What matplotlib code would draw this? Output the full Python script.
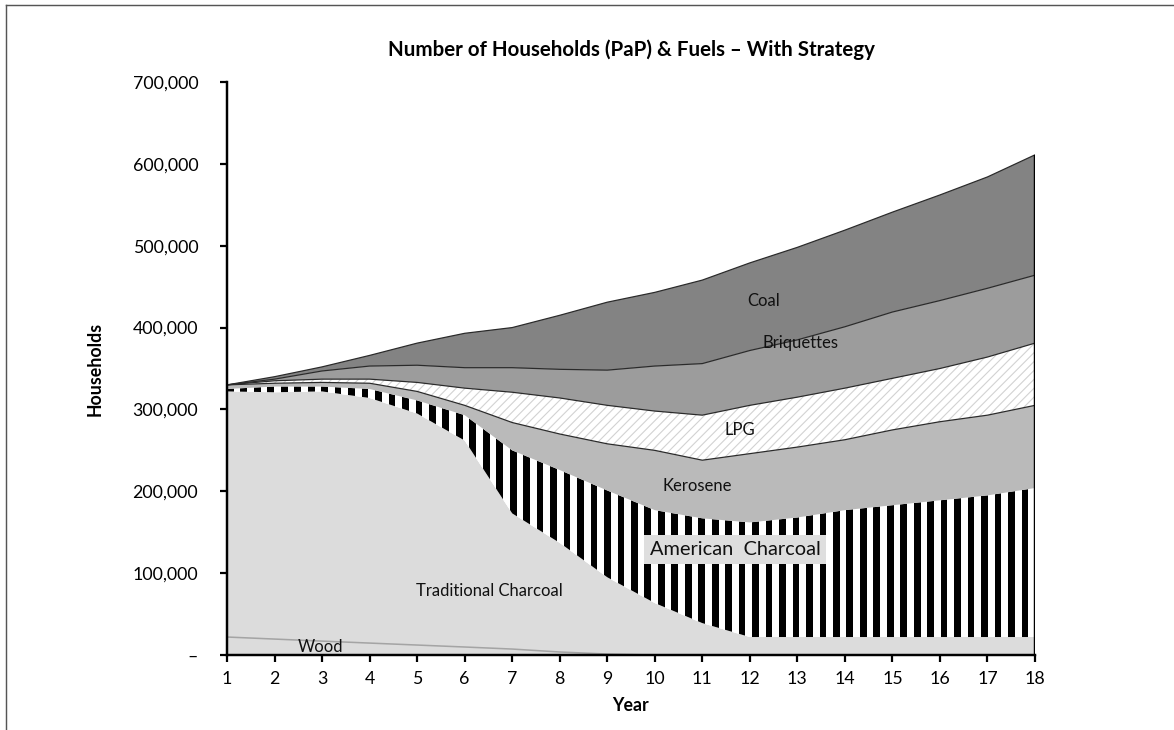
import numpy as np
import matplotlib
matplotlib.use('Agg')
import matplotlib.pyplot as plt
from matplotlib.lines import Line2D

# household counts per fuel (stack order bottom -> top)
years = list(range(1, 19))
wood = [22000, 19500, 17000, 14600, 12200, 9800, 7300, 3700, 1200,
        0, 0, 0, 0, 0, 0, 0, 0, 0]
trad_charcoal = [300000, 301500, 305000, 299400, 282800, 252200, 165700, 133300, 93800,
                 63500, 39000, 22000, 22000, 22000, 22000, 22000, 22000, 22000]
american_charcoal = [3000, 7000, 6000, 11000, 16000, 31000, 77000, 89000, 106000,
                     113500, 128000, 140000, 146000, 155000, 161000, 167000, 173000, 182000]
kerosene = [5000, 4000, 5000, 7000, 11000, 12000, 34000, 44000, 57000,
            73000, 71000, 84000, 86000, 86000, 92000, 96000, 98000, 101000]
lpg = [0, 3000, 4000, 5000, 11000, 21000, 37000, 44000, 47000,
       48000, 55000, 59000, 61000, 63000, 63000, 65000, 71000, 76000]
briquettes = [0, 2000, 10000, 16000, 21000, 25000, 30000, 35000, 43000,
              55000, 63000, 67000, 70000, 75000, 81000, 83000, 84000, 83000]
coal = [0, 3000, 5000, 13000, 27000, 42000, 49000, 66000, 83000,
        90000, 102000, 107000, 113000, 118000, 122000, 129000, 136000, 147000]

yticks = [0, 100000, 200000, 300000, 400000, 500000, 600000, 700000]

plt.rcParams['font.family'] = ['Lato', 'DejaVu Sans']
plt.rcParams['hatch.linewidth'] = 1.0

fig = plt.figure(figsize=(1174 / 80, 730 / 80), dpi=80)
ax = fig.add_axes([0.1934, 0.1027, 0.6882, 0.785])

x = np.array(years)
layers = [wood, trad_charcoal, american_charcoal, kerosene, lpg, briquettes, coal]
cum = np.cumsum(np.array(layers, dtype=float), axis=0)
zero = np.zeros(len(years))

# wood + traditional charcoal share the same light grey
ax.fill_between(x, zero, cum[0], facecolor='#dcdcdc', linewidth=0)
ax.fill_between(x, cum[0], cum[1], facecolor='#dcdcdc', linewidth=0)
ax.plot(x, cum[0], color='#a4a4a4', lw=1.4)

# american charcoal: black / white vertical stripes
am = ax.fill_between(x, cum[1], cum[2], facecolor='white', linewidth=0)
stripes = np.tile([0, 1], 60).reshape(1, -1)
im = ax.imshow(stripes, cmap='gray', aspect='auto', interpolation='nearest',
               extent=(1, 18, 0, 700000), zorder=1.5)
im.set_clip_path(am.get_paths()[0], transform=ax.transData)

ax.fill_between(x, cum[2], cum[3], facecolor='#bababa', linewidth=0, zorder=2)
ax.fill_between(x, cum[3], cum[4], facecolor='white', edgecolor='#d2d2d2',
                hatch='///', linewidth=0, zorder=2)
ax.fill_between(x, cum[4], cum[5], facecolor='#9c9c9c', linewidth=0, zorder=2)
ax.fill_between(x, cum[5], cum[6], facecolor='#838383', linewidth=0, zorder=2)
for k in range(3, 7):
    ax.plot(x, cum[k], color='#2a2a2a', lw=1.1, zorder=3)
ax.vlines(x[-1], 0, cum[6][-1], color='black', lw=2.2, zorder=4)

# series labels
lab = dict(ha='center', va='center', fontsize=15, color='#111111', zorder=5)
ax.text(12.28, 433000, 'Coal', **lab)
ax.text(13.06, 381000, 'Briquettes', **lab)
ax.text(11.8, 275000, 'LPG', **lab)
ax.text(10.9, 206000, 'Kerosene', **lab)
ax.text(6.51, 78000, 'Traditional Charcoal', **lab)
ax.text(2.96, 10000, 'Wood', **lab)
ax.text(11.69, 129000, 'American  Charcoal', ha='center', va='center', fontsize=18,
        color='#111111', zorder=5,
        bbox=dict(boxstyle='square,pad=0.3', facecolor='#dedede', edgecolor='none'))

ax.set_xlim(1, 18)
ax.set_ylim(0, 700000)
ax.set_xticks(years)
ax.set_yticks(yticks)
ax.set_yticklabels(['–' if v == 0 else f'{v:,}' for v in yticks])
ax.tick_params(direction='out', length=6, width=2, labelsize=16)
ax.tick_params(axis='y', pad=20)
ax.tick_params(axis='x', pad=8)
for s in ['top', 'right']:
    ax.spines[s].set_visible(False)
for s in ['left', 'bottom']:
    ax.spines[s].set_linewidth(2.2)
    ax.spines[s].set_zorder(6)

ax.set_xlabel('Year', fontsize=16, fontweight='bold', labelpad=9)
ax.set_ylabel('Households', fontsize=16, fontweight='bold', labelpad=26)
fig.text(0.5375, 0.932, 'Number of Households (PaP) & Fuels – With Strategy',
         ha='center', va='center', fontsize=18.5, fontweight='bold')

# outer frame (top and left edges)
fig.add_artist(Line2D([0.005, 1.0], [0.993, 0.993], color='#555555', lw=1.3))
fig.add_artist(Line2D([0.005, 0.005], [0.0, 0.993], color='#555555', lw=1.3))

fig.savefig('out.png', dpi=80)
